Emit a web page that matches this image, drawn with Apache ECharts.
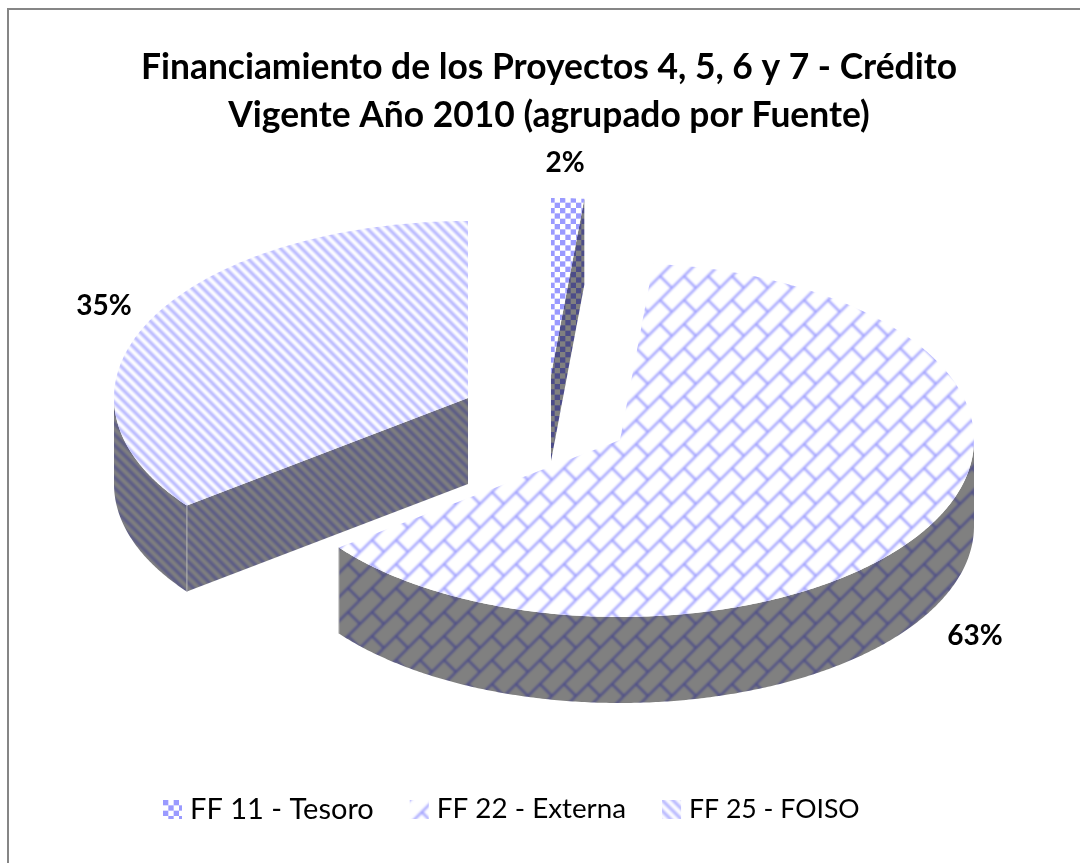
<!DOCTYPE html>
<html>
<head>
<meta charset="utf-8">
<style>
  html, body { margin: 0; padding: 0; background: #fff; }
  #chart { width: 1080px; height: 863px; }
</style>
<script src="https://cdn.jsdelivr.net/npm/echarts@6/dist/echarts.min.js"></script>
</head>
<body>
<div id="chart"></div>
<script>
// data (labels are rounded from these)
const categories = ['FF 11 - Tesoro', 'FF 22 - Externa', 'FF 25 - FOISO']
const shares = [1.5, 63.1, 35.4]
const titleLines = ['Financiamiento de los Proyectos 4, 5, 6 y 7 - Crédito', 'Vigente Año 2010 (agrupado por Fuente)']

// slice geometry: exploded 3d look, apex of each slice after the explosion
const radiusX = 354
const radiusY = 177
const depth = 86
const apexes = [[551, 375], [620, 440], [468, 398]]
const labelSpots = [[565, 163], [975, 636], [104, 306]]
const drawOrder = [2, 1, 0]
const legendFontSizes = [29, 27.8, 26.6]

const lilac = '#9a9aff'
const wallLine = '#4c4c88'
const wallBase = '#808080'

// pattern is painted three tiles wide, blurred, and the middle tile is kept
function makeTile(kind, base, ink) {
  const size = kind === 'brick' ? 72 : 64
  const big = document.createElement('canvas')
  big.width = size * 3
  big.height = size * 3
  const ctx = big.getContext('2d')
  ctx.fillStyle = base
  ctx.fillRect(0, 0, size * 3, size * 3)
  ctx.fillStyle = ink
  ctx.strokeStyle = ink
  if (kind === 'checker') {
    const cell = size / 12
    for (let i = 0; i < 36; i++) {
      for (let j = 0; j < 36; j++) {
        if ((i + j) % 2 === 0) ctx.fillRect(i * cell, j * cell, cell, cell)
      }
    }
  } else if (kind === 'stripes') {
    const step = size / 6
    ctx.lineWidth = 3.2
    ctx.globalAlpha = 0.74
    for (let k = -18; k <= 18; k++) {
      ctx.beginPath()
      ctx.moveTo(k * step, 0)
      ctx.lineTo(k * step + size * 3, size * 3)
      ctx.stroke()
    }
  } else {
    const t = size / 3
    ctx.lineWidth = 2.2
    for (let i = -1; i <= 9; i++) {
      for (let j = -1; j <= 9; j++) {
        const x = i * t
        const y = j * t
        ctx.beginPath()
        ctx.moveTo(x + t, y)
        ctx.lineTo(x, y + t)
        ctx.moveTo(x + t / 2, y + t / 2)
        ctx.lineTo(x + t, y + t)
        ctx.stroke()
      }
    }
  }
  const c = document.createElement('canvas')
  c.width = size
  c.height = size
  const out = c.getContext('2d')
  out.filter = kind === 'checker' ? 'blur(0.6px)' : 'blur(0.8px)'
  out.drawImage(big, -size, -size)
  return { image: c, repeat: 'repeat' }
}

const kinds = ['checker', 'brick', 'stripes']
const topFills = kinds.map(k => makeTile(k, '#ffffff', lilac))
const wallFills = kinds.map(k => makeTile(k, wallBase, wallLine))

const total = shares.reduce((a, b) => a + b, 0)
const starts = []
shares.reduce((acc, v, i) => {
  starts[i] = acc
  return acc + v
}, 0)

function onArc(apex, deg) {
  const r = deg * Math.PI / 180
  return [apex[0] + radiusX * Math.sin(r), apex[1] - radiusY * Math.cos(r)]
}

function arcPoints(apex, from, to) {
  const pts = []
  const n = Math.max(2, Math.ceil((to - from) * 2))
  for (let i = 0; i <= n; i++) pts.push(onArc(apex, from + (to - from) * i / n))
  return pts
}

function dropped(pts) {
  return pts.map(p => [p[0], p[1] + depth]).reverse()
}

function renderSlice(index) {
  const t0 = starts[index] / total * 360
  const t1 = t0 + shares[index] / total * 360
  const apex = apexes[index]
  const wall = wallFills[index]
  const children = []
  const addWall = pts => children.push({
    type: 'polygon',
    silent: true,
    shape: { points: pts.concat(dropped(pts)) },
    style: { fill: wall }
  })
  const addSeam = deg => {
    const p = onArc(apex, deg)
    children.push({
      type: 'line',
      silent: true,
      shape: { x1: p[0], y1: p[1], x2: p[0], y2: p[1] + depth },
      style: { stroke: '#b4b4b4', lineWidth: 1 }
    })
  }

  // cut faces, only the ones turned to the viewer
  if (Math.cos((t0 - 90) * Math.PI / 180) < -1e-6) addWall([apex, onArc(apex, t0)])
  if (Math.cos((t1 + 90) * Math.PI / 180) < -1e-6) addWall([apex, onArc(apex, t1)])
  // outer rim, front half only
  const rimFrom = Math.max(t0, 90)
  const rimTo = Math.min(t1, 270)
  if (rimTo > rimFrom) {
    addWall(arcPoints(apex, rimFrom, rimTo))
    if (rimFrom > 90) addSeam(rimFrom)
    if (rimTo < 270) addSeam(rimTo)
  }

  children.push({
    type: 'polygon',
    silent: true,
    shape: { points: [apex].concat(arcPoints(apex, t0, t1)) },
    style: { fill: topFills[index] }
  })
  children.push({
    type: 'text',
    silent: true,
    style: {
      x: labelSpots[index][0],
      y: labelSpots[index][1],
      text: Math.round(shares[index]) + '%',
      fill: '#000',
      align: 'center',
      verticalAlign: 'middle',
      font: 'bold 28px Lato'
    }
  })
  return { type: 'group', children: children }
}

const series = drawOrder.map(i => ({
  type: 'custom',
  name: categories[i],
  coordinateSystem: 'none',
  silent: true,
  animation: false,
  data: [shares[i]],
  itemStyle: { color: topFills[i] },
  renderItem: () => renderSlice(i)
}))

const chart = echarts.init(document.getElementById('chart'))
chart.setOption({
  backgroundColor: '#fff',
  animation: false,
  title: {
    text: titleLines.join('\n'),
    left: 544,
    top: 39,
    textAlign: 'center',
    textStyle: {
      fontFamily: 'Lato',
      fontWeight: 'bold',
      fontSize: 35.4,
      lineHeight: 48,
      color: '#000'
    }
  },
  legend: {
    left: 158,
    top: 790,
    itemWidth: 19,
    itemHeight: 19,
    itemGap: 36,
    icon: 'rect',
    data: categories.map((name, i) => ({
      name: name,
      itemStyle: { color: topFills[i], borderWidth: 0 },
      textStyle: { fontSize: legendFontSizes[i] }
    })),
    textStyle: {
      fontFamily: 'Lato',
      fontSize: 29,
      color: '#000',
      padding: [0, 0, 0, 3]
    }
  },
  graphic: [
    { type: 'rect', shape: { x: 7, y: 8, width: 1073, height: 2 }, style: { fill: '#868686' }, silent: true },
    { type: 'rect', shape: { x: 7, y: 8, width: 2, height: 855 }, style: { fill: '#868686' }, silent: true }
  ],
  series: series
})
</script>
</body>
</html>
